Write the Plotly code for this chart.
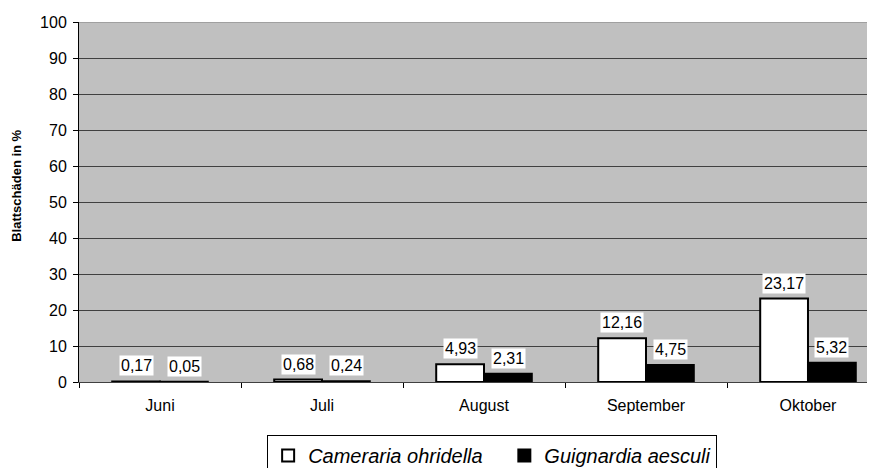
import plotly.graph_objects as go

months = ["Juni", "Juli", "August", "September", "Oktober"]
cameraria = [0.17, 0.68, 4.93, 12.16, 23.17]
guignardia = [0.05, 0.24, 2.31, 4.75, 5.32]
y_ticks = list(range(0, 101, 10))

FONT = "Arial, 'Liberation Sans', sans-serif"


def de(v):
    return f"{v:.2f}".replace(".", ",")


fig = go.Figure()
fig.add_trace(go.Bar(
    x=months, y=cameraria, name="Cameraria ohridella\u00a0\u00a0\u00a0",
    marker=dict(color="white", line=dict(color="black", width=2)),
))
fig.add_trace(go.Bar(
    x=months, y=guignardia, name="Guignardia aesculi",
    marker=dict(color="black", line=dict(color="black", width=2)),
))

annotations = []
for m, vc, vg in zip(months, cameraria, guignardia):
    for v, sh in ((vc, -24), (vg, 24)):
        annotations.append(dict(
            x=m, y=v, xref="x", yref="y", text=de(v), showarrow=False,
            xshift=sh, yshift=5, yanchor="bottom", xanchor="center",
            bgcolor="white", borderpad=1,
            font=dict(family=FONT, size=16, color="black"),
        ))

annotations.append(dict(
    text="<b>Blattschäden in %</b>", textangle=-90, showarrow=False,
    xref="paper", yref="paper", x=-0.0771, y=0.545,
    xanchor="center", yanchor="middle",
    font=dict(family=FONT, size=13, color="black"),
))

fig.update_layout(
    width=875, height=468,
    margin=dict(l=71, r=0, t=14, b=89),
    paper_bgcolor="white", plot_bgcolor="#C0C0C0",
    bargap=0.41, bargroupgap=0,
    font=dict(family=FONT, size=16, color="black"),
    annotations=annotations,
    shapes=[dict(type="line", xref="paper", yref="y", x0=0, x1=1, y0=100, y1=100,
                 line=dict(color="#808080", width=1), layer="above")],
    legend=dict(
        orientation="h", x=0.234, xanchor="left", y=-0.148, yanchor="top",
        bordercolor="black", borderwidth=1, bgcolor="white",
        font=dict(family=FONT, size=20, style="italic", color="black"),
        traceorder="normal",
    ),
    xaxis=dict(
        type="category", range=[-0.5, 4.463],
        showline=True, linecolor="#404040", linewidth=1,
        ticks="outside", tickson="boundaries", ticklen=5, tickcolor="black",
        showgrid=False, ticklabelstandoff=9,
        tickfont=dict(family=FONT, size=16, color="black"),
    ),
    yaxis=dict(
        range=[0, 100], tickvals=y_ticks,
        showline=True, linecolor="black", linewidth=1,
        ticks="outside", ticklen=5, tickcolor="black",
        showgrid=True, gridcolor="#404040", gridwidth=1, zeroline=False,
        ticklabelstandoff=3,
        tickfont=dict(family=FONT, size=16, color="black"),
    ),
)

fig.write_html("out.html")
